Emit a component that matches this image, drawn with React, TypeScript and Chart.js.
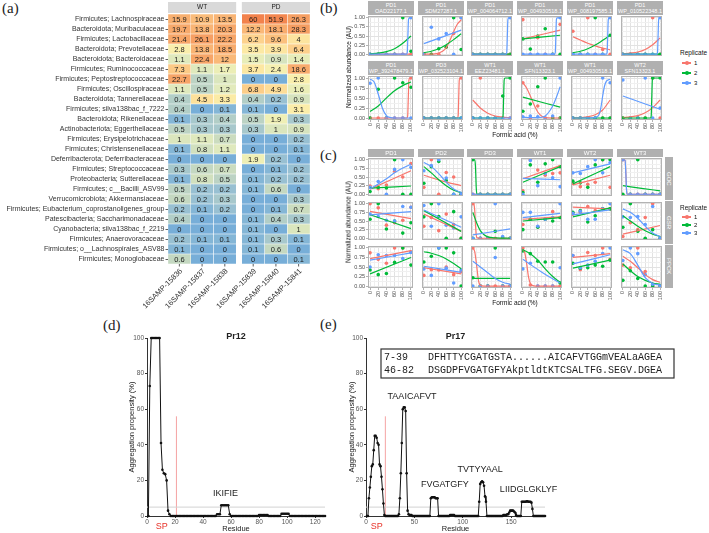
import React, { useEffect, useRef } from "react";
import { Chart, registerables } from "chart.js";

Chart.register(...registerables);
const FONT = "'Liberation Sans', Arial, Helvetica, sans-serif";
Chart.defaults.font.family = FONT;

// ---------------- (a) heatmap data ----------------
const TAXA = [
  "Firmicutes; Lachnospiraceae", "Bacteroidota; Muribaculaceae", "Firmicutes; Lactobacillaceae",
  "Bacteroidota; Prevotellaceae", "Bacteroidota; Bacteroidaceae", "Firmicutes; Ruminococcaceae",
  "Firmicutes; Peptostreptococcaceae", "Firmicutes; Oscillospiraceae", "Bacteroidota; Tannerellaceae",
  "Firmicutes; silva138bac_f_7222", "Bacteroidota; Rikenellaceae", "Actinobacteriota; Eggerthellaceae",
  "Firmicutes; Erysipelotrichaceae", "Firmicutes; Christensenellaceae", "Deferribacterota; Deferribacteraceae",
  "Firmicutes; Streptococcaceae", "Proteobacteria; Sutterellaceae", "Firmicutes; c__Bacilli_ASV99",
  "Verrucomicrobiota; Akkermansiaceae", "Firmicutes; Eubacterium_coprostanoligenes_group",
  "Patescibacteria; Saccharimonadaceae", "Cyanobacteria; silva138bac_f_2219", "Firmicutes; Anaerovoracaceae",
  "Firmicutes; o__Lachnospirales_ASV88", "Firmicutes; Monoglobaceae",
];
const SAMPLES = ["16SAMP-15836", "16SAMP-15837", "16SAMP-15838", "16SAMP-15839", "16SAMP-15840", "16SAMP-15841"];
const GROUPS = ["WT", "PD"];
const S15836 = [15.9, 19.7, 21.4, 2.8, 1.1, 7.3, 22.7, 1.1, 0.4, 0.4, 0.1, 0.5, 1, 0.1, 0, 0.3, 0.1, 0.5, 0.6, 0.2, 0.4, 0, 0.2, 0.1, 0.6];
const S15837 = [10.9, 13.8, 26.1, 13.8, 22.4, 1.1, 0.5, 0.5, 4.5, 0, 0.3, 0.3, 1.1, 0.8, 0, 0.6, 0.8, 0.2, 0.2, 0.1, 0, 0, 0.1, 0, 0];
const S15838 = [13.5, 20.3, 22.2, 18.5, 12, 1.7, 1, 1.2, 3.3, 0.1, 0.4, 0.3, 0.7, 1.1, 0, 0.7, 0.5, 0.2, 0.3, 0.2, 0, 0, 0.1, 0, 0];
const S15839 = [60, 12.2, 6.2, 3.5, 1.5, 3.7, 0, 6.8, 0.4, 0.1, 0.5, 0.3, 0, 0, 1.9, 0, 0.1, 0.1, 0, 0, 0.1, 0.1, 0.1, 0.1, 0];
const S15840 = [51.9, 18.1, 9.6, 3.9, 0.9, 2.4, 0, 4.9, 0.2, 0, 1.9, 1, 0, 0, 0.2, 0.1, 0.2, 0.6, 0, 0.1, 0.4, 0, 0.3, 0.6, 0];
const S15841 = [26.3, 28.3, 4, 6.4, 1.4, 18.6, 2.8, 1.6, 0.9, 3.1, 0.3, 0.9, 0.2, 0.1, 0, 0.2, 0.2, 0, 0.3, 0.7, 0.3, 1, 0.1, 0, 0.1];
const HEAT_VALUES = [S15836, S15837, S15838, S15839, S15840, S15841];
const HEAT_COL_POS = [0, 1, 2, 3.25, 4.25, 5.25];

// ---------------- (b)/(c) facet data ----------------
const FORMIC = [0, 20, 40, 60, 80, 100];
const FORMIC_MINOR = [10, 30, 50, 70, 90];
const ABUND_TICKS = [0, 0.25, 0.5, 0.75, 1];
const ABUND_MINOR = [0.125, 0.375, 0.625, 0.875];
const REPLICATES = ["1", "2", "3"];
const REP_COLORS = ["#F8766D", "#00BA38", "#619CFF"];

const B_TITLES = [
  ["PD1", "OAD22177.1"], ["PD1", "SDM27287.1"], ["PD1", "WP_004064712.1"], ["PD1", "WP_004930518.1"],
  ["PD1", "WP_008197585.1"], ["PD1", "WP_010522348.1"], ["PD1", "WP_392478479.1"], ["PD3", "WP_032523104.1"],
  ["WT1", "EEZ23481.1"], ["WT1", "SFN13323.1"], ["WT1", "WP_004930518.1"], ["WT2", "SFN13323.1"],
];
const B_POINTS = [
  [[0, 0, 0, 0, 0, 0], [0, 0, 0, 0, 1, 0.08], [0, 0, 0, 0, 0, 1]],
  [[0, 0, 0, 0.19, 0.57, 1], [0, 0, 0.15, 0.2, 1, 0.13], [0, 0.74, 0.42, 0.57, 0, 1]],
  [[0, 0, 0, 0, 0, 0], [0, 0, 0, 0, 0, 0], [0, 0, 0, 0, 0, 1]],
  [[0.95, 0, 0.45, 0, 0, 0.82], [0.42, 0.14, 0.5, 0.7, 0, 0], [0, 0, 0, 0, 0, 1]],
  [[0.63, 0, 1, 0, 0.13, 0], [0, 0, 0, 1, 0, 0.52], [0, 0, 0, 0, 0, 1]],
  [[0, 0, 0, 0, 1, 0], [0, 0, 0, 0, 0, 0], [0, 0, 0, 0, 0, 1]],
  [[0, 0, 0, 0, 0, 1], [0, 0.72, 0, 1, 0.88, 0.77], [0.87, 1, 0, 0, 0, 0]],
  [[0, 0, 0, 0, 0, 1], [0, 0, 0, 0, 0, 0], [0, 0, 0, 0, 0, 0]],
  [[0, 1, 0, 0, 0, 0], [0, 0, 0, 0, 0.55, 1], [0, 0, 0, 0, 0, 0]],
  [[0.88, 0, 0.3, 0, 0, 0], [0.17, 0.35, 0.78, 1, 0, 0], [0.03, 0.05, 0.03, 0, 0.05, 1]],
  [[0, 0, 0, 0, 0, 0], [0, 0, 0, 0, 0, 0], [0, 0, 0, 0, 1, 0.88]],
  [[0, 0, 0, 0, 1, 0], [0, 0, 0, 0, 1, 1], [0.95, 0, 0, 1, 0, 0.25]],
];
const B_FITS = [
  [[[0, 0], [100, 0]], [[0, 0.01], [20, 0.03], [40, 0.07], [60, 0.15], [80, 0.3], [100, 0.5]], [[0, 0], [89, 0], [91, 0.05], [92.5, 0.5], [94, 0.95], [96, 1], [100, 1]]],
  [[[0, 0], [30, 0.01], [50, 0.08], [60, 0.18], [70, 0.38], [80, 0.62], [90, 0.83], [100, 0.94]], [[0, 0.04], [20, 0.08], [40, 0.15], [60, 0.26], [80, 0.4], [100, 0.56]], [[0, 0.29], [100, 0.66]]],
  [[[0, 0], [100, 0]], [[0, 0], [100, 0]], [[0, 0], [89, 0], [91, 0.05], [92.5, 0.5], [94, 0.95], [96, 1], [100, 1]]],
  [[[0, 0.42], [100, 0.66]], [[0, 0.42], [100, 0.52]], [[0, 0], [85, 0], [87, 0.05], [88.5, 0.5], [90, 0.95], [92, 1], [100, 1]]],
  [[[0, 0.48], [20, 0.39], [40, 0.3], [60, 0.23], [80, 0.17], [100, 0.12]], [[0, 0.04], [20, 0.08], [40, 0.15], [60, 0.25], [80, 0.38], [100, 0.52]], [[0, 0], [90, 0], [92, 0.05], [93.5, 0.5], [95, 0.95], [97, 1], [100, 1]]],
  [[[0, 0.01], [20, 0.03], [40, 0.06], [60, 0.13], [80, 0.26], [100, 0.45]], [[0, 0], [100, 0]], [[0, 0], [91, 0], [93, 0.05], [94.5, 0.5], [96, 0.95], [98, 1], [100, 1]]],
  [[[0, 0], [90, 0], [92, 0.05], [93.5, 0.5], [95, 0.95], [97, 1], [100, 1]], [[0, 0.16], [20, 0.3], [40, 0.5], [60, 0.68], [80, 0.81], [100, 0.9]], [[0, 0.97], [10, 0.9], [20, 0.6], [30, 0.25], [40, 0.06], [50, 0.01], [60, 0], [100, 0]]],
  [[[0, 0], [90, 0], [92, 0.05], [93.5, 0.5], [95, 0.95], [97, 1], [100, 1]], [[0, 0], [100, 0]], [[0, 0], [100, 0]]],
  [[[0, 0.45], [20, 0.25], [40, 0.12], [60, 0.05], [80, 0.02], [100, 0.01]], [[0, 0], [79, 0], [81, 0.05], [82.5, 0.5], [84, 0.95], [86, 1], [100, 1]], [[0, 0], [100, 0]]],
  [[[0, 0.88], [10, 0.75], [20, 0.55], [30, 0.33], [40, 0.15], [50, 0.05], [60, 0.01], [80, 0], [100, 0]], [[0, 0.52], [100, 0.27]], [[0, 0.02], [20, 0.01], [40, 0.01], [60, 0.05], [70, 0.15], [80, 0.3], [90, 0.52], [100, 0.78]]],
  [[[0, 0], [20, 0.01], [40, 0.03], [60, 0.08], [80, 0.2], [100, 0.45]], [[0, 0], [100, 0]], [[0, 0], [60, 0.01], [70, 0.08], [75, 0.25], [80, 0.55], [85, 0.8], [90, 0.92], [100, 0.97]]],
  [[[0, 0.01], [20, 0.03], [40, 0.06], [60, 0.13], [80, 0.26], [100, 0.45]], [[0, 0], [74, 0], [76, 0.05], [77.5, 0.5], [79, 0.95], [81, 1], [100, 1]], [[0, 0.55], [100, 0.22]]],
];

const C_COLS = ["PD1", "PD2", "PD3", "WT1", "WT2", "WT3"];
const C_ROWS = ["GOC", "GSR", "PPCK"];
const C_POINTS = [
  [[0.24, 0.16, 0.27, 0.67, 0.5, 0.89], [0.08, 0.2, 0.18, 1, 0, 0], [0.2, 0.37, 0, 0.72, 1, 0.78]],
  [[0.2, 1, 0, 0.63, 0.5, 0], [0.32, 0.8, 0.95, 0.4, 0, 0], [0.68, 0.83, 1, 0.47, 0, 0.02]],
  [[0, 0, 0, 0, 0, 0], [1, 0, 0, 0, 0, 0], [0, 0, 0, 0, 0, 0]],
  [[0.1, 1, 0.7, 0.55, 0.6, 0.62], [0.05, 0.85, 0.35, 0.88, 1, 0.8], [0, 0.98, 0.25, 0.6, 0.48, 0.22]],
  [[0.31, 0.22, 0.29, 0.35, 1, 0.2], [0.38, 0.33, 0.2, 0.85, 1, 1], [0.62, 0.6, 0.8, 1, 0.62, 0.92]],
  [[1, 0, 0, 0, 0, 0], [0, 0, 1, 0, 0, 0], [1, 0, 0, 0, 0, 0]],
  [[1, 0.88, 0.38, 0.45, 0.52, 0.9], [0.55, 1, 0.27, 0.5, 0.15, 0.45], [0.7, 0.63, 0.52, 0.5, 0.92, 0.9]],
  [[0.35, 0.6, 0.22, 0.7, 0.4, 0], [0.62, 1, 0.63, 0, 0.77, 0], [0.95, 0.35, 1, 0.38, 0.3, 0.62]],
  [[1, 0, 0, 0, 0, 0], [0, 0, 0, 0.2, 0, 0], [0, 0, 0, 1, 0.05, 0]],
  [[0.4, 0.55, 0.33, 0.55, 0.77, 0.6], [0.25, 0.55, 0.32, 0.55, 0.5, 0.6], [0.75, 0.75, 0.35, 0.55, 0.6, 1]],
  [[0.7, 0.75, 0.92, 0.8, 0.85, 0.85], [0.75, 0.8, 0.47, 0.65, 0.85, 0.85], [0.72, 0.78, 0.55, 0.55, 0.85, 1]],
  [[0.05, 0.45, 0.25, 0.6, 1, 0], [0.32, 1, 0.2, 0, 0.25, 0], [0.62, 0.6, 0.63, 0.4, 0.92, 0]],
  [[0.87, 0.7, 0.6, 1, 1, 0.9], [0.42, 0.3, 0.33, 0.62, 1, 0.55], [0.5, 0.82, 0.8, 0.8, 0.72, 0.88]],
  [[0.28, 0.43, 0.42, 0.5, 0.3, 0.38], [0.63, 0.78, 1, 1, 0.87, 0], [0.45, 0.28, 1, 0.47, 0.08, 0.42]],
  [[1, 0, 0, 0, 0, 0], [0.22, 0, 0, 1, 0, 0], [0, 0, 0, 0.75, 0, 0]],
  [[1, 0.03, 0, 0, 0, 0], [0.92, 0.85, 0.65, 0.63, 0.63, 0.08], [0.45, 0.6, 0, 0, 0, 0.48]],
  [[0.8, 0.43, 0.88, 0.8, 1, 0.7], [0.6, 0.47, 0.48, 0.55, 0.52, 0.68], [0.8, 0.48, 0.55, 0.65, 0.85, 1]],
  [[0.55, 0.48, 1, 0.38, 0, 0], [0.15, 0.4, 0.2, 0, 0, 0], [0.67, 1, 0.85, 0.3, 0.05, 0]],
];
const C_FITS = [
  [[[0, 0.15], [100, 0.68]], [[0, 0.18], [100, 0.24]], [[0, 0.15], [20, 0.3], [40, 0.45], [60, 0.62], [80, 0.76], [100, 0.87]]],
  [[[0, 0.55], [50, 0.38], [100, 0.25]], [[0, 0.8], [20, 0.62], [40, 0.42], [60, 0.25], [80, 0.12], [100, 0.05]], [[0, 0.92], [20, 0.8], [40, 0.6], [60, 0.35], [80, 0.15], [100, 0.05]]],
  [[[0, 0], [100, 0]], [[0, 1], [5, 0.99], [7, 0.8], [8, 0.5], [9, 0.2], [11, 0.01], [15, 0], [100, 0]], [[0, 0], [100, 0]]],
  [[[0, 0.45], [100, 0.83]], [[0, 0.35], [100, 0.8]], [[0, 0.46], [100, 0.42]]],
  [[[0, 0.27], [100, 0.55]], [[0, 0.3], [100, 0.8]], [[0, 0.62], [100, 0.88]]],
  [[[0, 1], [6, 0.98], [8, 0.6], [10, 0.1], [12, 0], [100, 0]], [[0, 0.25], [50, 0.17], [100, 0.1]], [[0, 1], [6, 0.98], [8, 0.6], [10, 0.1], [12, 0], [100, 0]]],
  [[[0, 0.78], [100, 0.57]], [[0, 0.68], [100, 0.28]], [[0, 0.68], [100, 0.77]]],
  [[[0, 0.7], [100, 0.2]], [[0, 0.8], [100, 0.2]], [[0, 0.82], [100, 0.32]]],
  [[[0, 1], [3, 0.97], [5, 0.8], [7, 0.4], [9, 0.1], [12, 0.01], [20, 0], [100, 0]], [[0, 0.75], [10, 0.45], [20, 0.22], [30, 0.1], [40, 0.04], [60, 0.01], [100, 0]], [[0, 0.1], [100, 0.27]]],
  [[[0, 0.55], [100, 0.62]], [[0, 0.5], [100, 0.6]], [[0, 0.6], [100, 0.72]]],
  [[[0, 0.9], [100, 0.85]], [[0, 0.62], [100, 0.88]], [[0, 0.68], [100, 0.82]]],
  [[[0, 0.12], [100, 0.37]], [[0, 0.65], [20, 0.5], [40, 0.35], [60, 0.22], [80, 0.12], [100, 0.05]], [[0, 0.85], [20, 0.75], [40, 0.58], [60, 0.35], [80, 0.15], [100, 0.05]]],
  [[[0, 0.72], [100, 0.93]], [[0, 0.32], [100, 0.75]], [[0, 0.68], [100, 0.87]]],
  [[[0, 0.48], [100, 0.32]], [[0, 0.9], [20, 0.86], [40, 0.8], [60, 0.71], [80, 0.59], [100, 0.45]], [[0, 0.52], [100, 0.36]]],
  [[[0, 1], [5, 0.9], [10, 0.55], [15, 0.15], [20, 0.02], [30, 0], [100, 0]], [[0, 0.2], [100, 0.2]], [[0, 0.65], [20, 0.5], [40, 0.35], [60, 0.2], [80, 0.1], [100, 0.05]]],
  [[[0, 0.95], [5, 0.88], [10, 0.6], [15, 0.25], [20, 0.07], [25, 0.02], [35, 0], [100, 0]], [[0, 0.95], [20, 0.85], [40, 0.68], [60, 0.45], [80, 0.25], [100, 0.1]], [[0, 0.7], [50, 0.37], [100, 0.08]]],
  [[[0, 0.75], [100, 0.85]], [[0, 0.47], [100, 0.68]], [[0, 0.58], [100, 0.82]]],
  [[[0, 0.78], [20, 0.65], [40, 0.48], [60, 0.3], [80, 0.17], [100, 0.1]], [[0, 0.58], [20, 0.4], [40, 0.25], [60, 0.15], [80, 0.08], [100, 0.05]], [[0, 0.95], [20, 0.85], [40, 0.55], [60, 0.22], [80, 0.07], [100, 0.03]]],
];

// ---------------- (d)/(e) aggregation data ----------------
const AGG_TICKS_Y = 20;
const AGG_THRESHOLD = 5;
const SP_LINE_TOP = 56;
const PR12_VALUES = [
  0, 73, 100, 100, 100, 100, 100, 100, 100, 41,
  26, 24, 23.5, 20, 3, 1, 0, 0, 0, 0,
  0, 0, 0, 0, 0, 0, 0, 0, 0, 0,
  0, 0, 0, 0, 0, 0, 0, 0, 0, 0,
  0, 0, 0, 0, 0, 0, 0, 0, 0, 1,
  1, 1, 6, 6, 6, 6, 6, 6, 1, 0,
  0, 0, 0, 0, 0, 0, 0, 0, 0, 0,
  0, 0, 0, 0, 0, 0, 0, 0, 0, 0.5,
  0.5, 0.5, 0.5, 0.5, 0.5, 0.5, 0, 0, 0, 0,
  0, 0, 0, 0, 0, 1.2, 1.3, 1.3, 1.3, 1.3,
  1.2, 0, 0, 0, 0, 0, 0, 0, 0, 0,
  0, 0, 0, 0, 0, 0, 0, 0, 0, 0,
  0, 0, 0, 0, 0, 0, 0,
];
const PR17_VALUES = [
  0, 0, 10, 16, 22, 28, 29, 37, 45, 45,
  44, 41, 40, 29, 28, 22, 15, 7, 0.5, 0,
  0, 0, 0, 0, 0, 0, 0, 0, 0, 0,
  0, 0, 0, 1, 10, 24, 41, 60, 61, 61,
  59, 24, 3, 1, 0.5, 0.5, 0.5, 0, 0, 0,
  0, 0, 0, 0, 0, 0, 0, 0, 0, 0,
  0, 0, 0, 0, 0, 0, 10, 10.5, 10.5, 10.5,
  10.5, 10, 10, 10, 0, 0, 0, 0, 0, 0,
  0, 0, 0, 0, 0, 0, 0.5, 0.5, 0.5, 0.5,
  0.5, 0, 0, 0, 0, 0, 0, 0, 0, 0,
  0, 0, 0, 0, 0, 0, 0, 0, 0, 0,
  0, 0, 0, 0, 0, 0, 8, 18, 19, 19.5,
  19, 17, 11, 8, 0, 0, 0, 0, 0, 0,
  0, 0, 0, 0, 0, 0, 0, 0, 0, 0,
  0, 0.5, 0.5, 0.5, 0.5, 1, 1, 2, 3, 3,
  3, 3, 2.5, 2, 0.5, 0, 0, 0, 0, 0,
  8, 8, 8, 8, 8, 8.2, 8.2, 8, 8, 8,
  7.5, 4, 0, 0, 0, 0, 0, 0, 0, 0,
  0, 0, 0, 0, 0,
];
const PR12_SP_END = 21;
const PR17_SP_END = 20;
const PR12_PEPTIDES: [string, number, number][] = [["IKIFIE", 56, 12.5]];
const PR17_PEPTIDES: [string, number, number][] = [
  ["TAAICAFVT", 47.5, 67], ["FVGATGFY", 81.5, 17.5], ["TVTYYAAL", 118, 26], ["LIIDGLGKLYF", 168, 14.6],
];
const PR17_ALIGN = [
  ["7-39", "DFHTTYCGATGSTA......AICAFVTGGmVEALaAGEA"],
  ["46-82", "DSGDPFVGATGFYAkptldtKTCSALTFG.SEGV.DGEA"],
];

// ---------------- helpers ----------------
const HEAT_STOPS: [number, string][] = [
  [0, "#77aed8"], [0.1, "#84b6d6"], [0.2, "#98c0d2"], [0.4, "#b2cec7"], [0.7, "#cbdcbf"], [1.1, "#dfe9bd"],
  [2, "#f1f0b4"], [3, "#fbeeaa"], [5, "#fddc97"], [8, "#fcc682"], [14, "#f9b474"], [25, "#f6a164"], [60, "#f2824c"],
];
function hexToRgb(h: string) {
  const n = parseInt(h.slice(1), 16);
  return [(n >> 16) & 255, (n >> 8) & 255, n & 255];
}
function heatColor(v: number) {
  const t = Math.log10(v + 0.1);
  for (let i = 0; i < HEAT_STOPS.length - 1; i++) {
    const t0 = Math.log10(HEAT_STOPS[i][0] + 0.1);
    const t1 = Math.log10(HEAT_STOPS[i + 1][0] + 0.1);
    if (t <= t1 || i === HEAT_STOPS.length - 2) {
      const f = Math.max(0, Math.min(1, (t - t0) / (t1 - t0)));
      const a = hexToRgb(HEAT_STOPS[i][1]);
      const b = hexToRgb(HEAT_STOPS[i + 1][1]);
      return `rgb(${a.map((c, k) => Math.round(c + (b[k] - c) * f)).join(",")})`;
    }
  }
  return HEAT_STOPS[0][1];
}

const heatPlugin = {
  id: "heatDeco",
  afterDatasetsDraw(chart: any) {
    const { ctx, chartArea: a } = chart;
    const x = chart.scales.x;
    ctx.save();
    ctx.font = `7.5px ${FONT}`;
    ctx.fillStyle = "#1a1a1a";
    ctx.textAlign = "center";
    ctx.textBaseline = "middle";
    chart.data.datasets.forEach((_ds: any, i: number) => {
      const meta = chart.getDatasetMeta(i);
      meta.data.forEach((el: any, j: number) => {
        const p = el.getProps(["x", "y", "base"], true);
        ctx.fillText(String(HEAT_VALUES[i][j]), (p.x + p.base) / 2, p.y + 0.5);
      });
    });
    GROUPS.forEach((g, gi) => {
      const x0 = x.getPixelForValue(HEAT_COL_POS[gi * 3]);
      const x1 = x.getPixelForValue(HEAT_COL_POS[gi * 3 + 2] + 1);
      ctx.fillStyle = "#d9d9d9";
      ctx.fillRect(x0, a.top - 12, x1 - x0, 11);
      ctx.fillStyle = "#1a1a1a";
      ctx.font = `6.5px ${FONT}`;
      ctx.fillText(g, (x0 + x1) / 2, a.top - 6.5);
    });
    ctx.font = `7.5px ${FONT}`;
    ctx.fillStyle = "#333";
    ctx.strokeStyle = "#333";
    ctx.lineWidth = 0.8;
    SAMPLES.forEach((s, k) => {
      const cx = x.getPixelForValue(HEAT_COL_POS[k] + 0.5);
      ctx.beginPath();
      ctx.moveTo(cx, a.bottom);
      ctx.lineTo(cx, a.bottom + 2.5);
      ctx.stroke();
      ctx.save();
      ctx.translate(cx + 2, a.bottom + 6);
      ctx.rotate(-Math.PI / 4);
      ctx.textAlign = "right";
      ctx.textBaseline = "middle";
      ctx.fillText(s, 0, 0);
      ctx.restore();
    });
    ctx.restore();
  },
};

function heatConfig(height: number) {
  return {
    type: "bar",
    data: {
      labels: TAXA,
      datasets: HEAT_VALUES.map((vals, k) => ({
        data: TAXA.map(() => [HEAT_COL_POS[k], HEAT_COL_POS[k] + 1]),
        backgroundColor: vals.map(heatColor),
        borderColor: "#ffffff",
        borderWidth: 0.5,
        borderSkipped: false,
        grouped: false,
        barPercentage: 1,
        categoryPercentage: 1,
      })),
    },
    options: {
      indexAxis: "y",
      responsive: false,
      animation: false,
      devicePixelRatio: 1,
      events: [],
      layout: { padding: { top: 14, right: 2, bottom: height - 264, left: 0 } },
      plugins: { legend: { display: false }, tooltip: { enabled: false } },
      scales: {
        x: { type: "linear", min: 0, max: 6.25, display: false },
        y: {
          type: "category",
          position: "left",
          grid: { display: true, drawOnChartArea: false, offset: false, tickLength: 2.5, tickColor: "#333", tickWidth: 0.8 },
          border: { display: false },
          ticks: { color: "#333", font: { size: 7 }, padding: 1, autoSkip: false },
          afterFit: (s: any) => { s.width = 168; },
        },
      },
    },
    plugins: [heatPlugin],
  };
}

const panelBorder = {
  id: "panelBorder",
  afterDraw(chart: any) {
    const { ctx, chartArea: a } = chart;
    ctx.save();
    ctx.strokeStyle = "#b3b3b3";
    ctx.lineWidth = 1;
    ctx.strokeRect(Math.round(a.left) + 0.5, Math.round(a.top) + 0.5, Math.round(a.width) - 1, Math.round(a.height) - 1);
    ctx.restore();
  },
};

const FY_W = 18;
const FX_H = 12;
const FPAD = 3;
const FACET_X = [368, 418, 467, 517, 567, 617];
const FACET_W = 46;

function zeroPad(s: any) {
  s.paddingLeft = 0; s.paddingRight = 0; s.paddingTop = 0; s.paddingBottom = 0;
}

function facetConfig(pts: number[][], fits: number[][][], showY: boolean, showX: boolean) {
  const datasets: any[] = [];
  fits.forEach((f, r) => datasets.push({
    data: f.map(([x, y]) => ({ x, y })),
    showLine: true,
    borderColor: REP_COLORS[r],
    backgroundColor: REP_COLORS[r],
    borderWidth: 1.2,
    pointRadius: 0,
    pointHoverRadius: 0,
    cubicInterpolationMode: "monotone",
    order: 2 - r,
  }));
  pts.forEach((p, r) => datasets.push({
    data: p.map((y, i) => ({ x: FORMIC[i], y })),
    showLine: false,
    pointRadius: 1.8,
    pointBackgroundColor: REP_COLORS[r],
    pointBorderColor: REP_COLORS[r],
    pointBorderWidth: 0,
    order: 5 - r,
  }));
  const majX = (v: number) => FORMIC.includes(v);
  const majY = (v: number) => ABUND_TICKS.some((t) => Math.abs(t - v) < 1e-9);
  return {
    type: "scatter",
    data: { datasets },
    options: {
      responsive: false,
      animation: false,
      devicePixelRatio: 1,
      events: [],
      layout: { padding: { top: FPAD, right: FPAD, left: 0, bottom: 0 } },
      plugins: { legend: { display: false }, tooltip: { enabled: false } },
      scales: {
        x: {
          type: "linear", min: -5, max: 105,
          afterBuildTicks: (s: any) => { s.ticks = [...FORMIC, ...FORMIC_MINOR].sort((a, b) => a - b).map((v) => ({ value: v })); },
          afterFit: (s: any) => { s.height = showX ? FX_H : 0; zeroPad(s); },
          ticks: { display: showX, autoSkip: false, minRotation: 90, maxRotation: 90, padding: 1, color: "#4d4d4d", font: { size: 5.5 }, callback: (v: number) => (majX(v) ? String(v) : "") },
          grid: {
            color: (c: any) => (majX(c.tick && c.tick.value) ? "#e2e2e2" : "#f0f0f0"),
            drawTicks: showX, tickLength: 2,
            tickColor: (c: any) => (majX(c.tick && c.tick.value) ? "#b3b3b3" : "rgba(0,0,0,0)"),
          },
          border: { display: false },
        },
        y: {
          type: "linear", min: -0.05, max: 1.05,
          afterBuildTicks: (s: any) => { s.ticks = [...ABUND_TICKS, ...ABUND_MINOR].sort((a, b) => a - b).map((v) => ({ value: v })); },
          afterFit: (s: any) => { s.width = showY ? FY_W : 0; zeroPad(s); },
          ticks: { display: showY, autoSkip: false, padding: 1, color: "#4d4d4d", font: { size: 5.5 }, callback: (v: number) => (majY(v) ? v.toFixed(2) : "") },
          grid: {
            color: (c: any) => (majY(c.tick && c.tick.value) ? "#e2e2e2" : "#f0f0f0"),
            drawTicks: showY, tickLength: 2,
            tickColor: (c: any) => (majY(c.tick && c.tick.value) ? "#b3b3b3" : "rgba(0,0,0,0)"),
          },
          border: { display: false },
        },
      },
    },
    plugins: [panelBorder],
  };
}

function aggConfig(values: number[], xMax: number, xStep: number, spEnd: number, title: string,
  peptides: [string, number, number][], spX: number, yW: number, padRight: number, align: string[][] | null) {
  const deco = {
    id: "aggDeco",
    afterDraw(chart: any) {
      const { ctx, chartArea: a } = chart;
      const xs = chart.scales.x;
      const ys = chart.scales.y;
      ctx.save();
      ctx.textAlign = "center";
      ctx.textBaseline = "middle";
      ctx.fillStyle = "#222";
      ctx.font = `bold 9px ${FONT}`;
      ctx.fillText(title, (a.left + a.right) / 2, a.top - 1);
      ctx.font = `9px ${FONT}`;
      peptides.forEach(([t, px, py]) => ctx.fillText(t, xs.getPixelForValue(px), ys.getPixelForValue(py)));
      ctx.fillStyle = "#e8332a";
      ctx.font = `9px ${FONT}`;
      ctx.fillText("SP", xs.getPixelForValue(spX), a.bottom + 11);
      if (align) {
        const bx = a.left + 15, by = a.top + 11, bw = 293, bh = 29;
        ctx.strokeStyle = "#333";
        ctx.lineWidth = 1.2;
        ctx.strokeRect(bx, by, bw, bh);
        ctx.fillStyle = "#222";
        ctx.font = `10px 'Liberation Mono', 'DejaVu Sans Mono', monospace`;
        ctx.textAlign = "left";
        align.forEach(([rng, seq], i) => {
          const yy = by + 8.5 + i * 12.5;
          ctx.fillText(rng, bx + 3, yy);
          ctx.fillText(seq, bx + 47, yy);
        });
      }
      ctx.restore();
    },
  };
  return {
    type: "scatter",
    data: {
      datasets: [
        { data: values.map((v, i) => ({ x: i + 1, y: v })), showLine: true, borderColor: "#111", borderWidth: 1, pointRadius: 1.3, pointBackgroundColor: "#111", pointBorderWidth: 0, order: 0, clip: 4 },
        { data: [{ x: 0, y: AGG_THRESHOLD }, { x: xMax, y: AGG_THRESHOLD }], showLine: true, borderColor: "#d2d2d2", borderWidth: 1, pointRadius: 0, order: 1 },
        { data: [{ x: spEnd, y: 0 }, { x: spEnd, y: SP_LINE_TOP }], showLine: true, borderColor: "#f5a3a3", borderWidth: 1, pointRadius: 0, order: 2 },
      ],
    },
    options: {
      responsive: false,
      animation: false,
      devicePixelRatio: 1,
      events: [],
      layout: { padding: { top: 12, right: padRight, left: 0, bottom: 0 } },
      plugins: { legend: { display: false }, tooltip: { enabled: false } },
      scales: {
        x: {
          type: "linear", min: 0, max: xMax,
          ticks: { stepSize: xStep, includeBounds: false, color: "#555", font: { size: 6.5 }, padding: 0, maxRotation: 0 },
          grid: { display: true, drawOnChartArea: false, tickLength: 2, color: "#333" },
          border: { display: true, color: "#333", width: 1 },
          title: { display: true, text: "Residue", color: "#222", font: { size: 7.5 }, padding: 0 },
          afterFit: (s: any) => { s.height = 17; zeroPad(s); },
        },
        y: {
          type: "linear", min: 0, max: 100,
          ticks: { stepSize: AGG_TICKS_Y, color: "#555", font: { size: 6.5 }, padding: 1 },
          grid: { display: true, drawOnChartArea: false, tickLength: 2, color: "#333" },
          border: { display: true, color: "#333", width: 1 },
          title: { display: true, text: "Aggregation propensity (%)", color: "#222", font: { size: 7.5 }, padding: 0 },
          afterFit: (s: any) => { s.width = yW; zeroPad(s); },
        },
      },
    },
    plugins: [deco],
  };
}

function ChartBox({ left, top, width, height, config }: any) {
  const ref = useRef<HTMLCanvasElement>(null);
  useEffect(() => {
    const chart = new Chart(ref.current as HTMLCanvasElement, config);
    return () => chart.destroy();
  }, []);
  return <canvas ref={ref} width={width} height={height} style={{ position: "absolute", left, top, width, height }} />;
}

function Facet({ col, plotTop, plotH, pts, fits, showY, showX }: any) {
  const left = FACET_X[col] - (showY ? FY_W : 0);
  const top = plotTop - FPAD;
  const width = FACET_W + (showY ? FY_W : 0) + FPAD;
  const height = FPAD + plotH + (showX ? FX_H : 0);
  return <ChartBox left={left} top={top} width={width} height={height} config={facetConfig(pts, fits, showY, showX)} />;
}

function PanelLabel({ x, y, text }: any) {
  return <div style={{ position: "absolute", left: x, top: y, fontFamily: "'Liberation Serif', 'DejaVu Serif', serif", fontSize: 15, lineHeight: "16px", color: "#222" }}>{text}</div>;
}

function Legend({ x, titleY, firstY, gap }: any) {
  return (
    <>
      <div style={{ position: "absolute", left: x, top: titleY - 4.5, fontSize: 6.5, lineHeight: "9px", color: "#111", whiteSpace: "nowrap" }}>Replicate</div>
      {REPLICATES.map((r, i) => (
        <React.Fragment key={r}>
          <div style={{ position: "absolute", left: x + 2, top: firstY + i * gap - 0.6, width: 9, height: 1.2, background: REP_COLORS[i] }} />
          <div style={{ position: "absolute", left: x + 4.5, top: firstY + i * gap - 2, width: 4, height: 4, borderRadius: 2, background: REP_COLORS[i] }} />
          <div style={{ position: "absolute", left: x + 14, top: firstY + i * gap - 4, fontSize: 6, lineHeight: "8px", color: "#111" }}>{r}</div>
        </React.Fragment>
      ))}
    </>
  );
}

const B_PLOT_Y = [15, 75];
const B_PLOT_H = 45;
const C_PLOT_Y = [157, 201, 245];
const C_PLOT_H = 43;

export default function App() {
  const stripBase: any = { position: "absolute", background: "#b0b0b0", color: "#fff", fontSize: 5.5, textAlign: "center", display: "flex", flexDirection: "column", justifyContent: "center", overflow: "hidden", whiteSpace: "nowrap" };
  return (
    <div style={{ position: "absolute", left: 0, top: 0, width: 709, height: 533, background: "#fff", overflow: "hidden", fontFamily: FONT }}>
      <PanelLabel x={2} y={0} text="(a)" />
      <PanelLabel x={320} y={0} text="(b)" />
      <PanelLabel x={320} y={147} text="(c)" />
      <PanelLabel x={103} y={317} text="(d)" />
      <PanelLabel x={320} y={316} text="(e)" />

      <ChartBox left={0} top={0} width={312} height={335} config={heatConfig(335)} />

      {/* (b) */}
      {B_TITLES.map((t, p) => {
        const col = p % 6, row = Math.floor(p / 6);
        return (
          <React.Fragment key={"b" + p}>
            <div style={{ ...stripBase, left: FACET_X[col], top: B_PLOT_Y[row] - 14, width: FACET_W, height: 14, lineHeight: "6px" }}>
              <div>{t[0]}</div><div>{t[1]}</div>
            </div>
            <Facet col={col} plotTop={B_PLOT_Y[row]} plotH={B_PLOT_H} pts={B_POINTS[p]} fits={B_FITS[p]} showY={col === 0} showX={row === 1} />
          </React.Fragment>
        );
      })}
      <div style={{ position: "absolute", left: 415, width: 200, top: 131, textAlign: "center", fontSize: 6.5, lineHeight: "8px", color: "#111" }}>Formic acid (%)</div>
      <div style={{ position: "absolute", left: 348, top: 67, transform: "translate(-50%,-50%) rotate(-90deg)", whiteSpace: "nowrap", fontSize: 6.5, color: "#111" }}>Normalized abundance (AU)</div>
      <Legend x={680} titleY={52} firstY={63} gap={10} />

      {/* (c) */}
      {C_COLS.map((c, col) => (
        <div key={"cs" + col} style={{ ...stripBase, left: FACET_X[col], top: 149, width: FACET_W, height: 8, fontSize: 6, lineHeight: "8px" }}>{c}</div>
      ))}
      {C_ROWS.map((r, row) => (
        <div key={"cr" + row} style={{ ...stripBase, left: 665, top: C_PLOT_Y[row], width: 8, height: C_PLOT_H, fontSize: 6, alignItems: "center" }}>
          <span style={{ writingMode: "vertical-rl" as any, lineHeight: "8px" }}>{r}</span>
        </div>
      ))}
      {C_POINTS.map((pts, p) => {
        const col = p % 6, row = Math.floor(p / 6);
        return <Facet key={"c" + p} col={col} plotTop={C_PLOT_Y[row]} plotH={C_PLOT_H} pts={pts} fits={C_FITS[p]} showY={col === 0} showX={row === 2} />;
      })}
      <div style={{ position: "absolute", left: 415, width: 200, top: 299, textAlign: "center", fontSize: 6.5, lineHeight: "8px", color: "#111" }}>Formic acid (%)</div>
      <div style={{ position: "absolute", left: 348, top: 222, transform: "translate(-50%,-50%) rotate(-90deg)", whiteSpace: "nowrap", fontSize: 6.5, color: "#111" }}>Normalized abundance (AU)</div>
      <Legend x={680} titleY={207} firstY={217} gap={8} />

      {/* (d) */}
      <ChartBox left={127} top={326} width={204} height={207}
        config={aggConfig(PR12_VALUES, 127, 20, PR12_SP_END, "Pr12", PR12_PEPTIDES, 10.6, 20, 6, null)} />
      {/* (e) */}
      <ChartBox left={347} top={326} width={362} height={207}
        config={aggConfig(PR17_VALUES, 185, 50, PR17_SP_END, "Pr17", PR17_PEPTIDES, 11, 19, 164, PR17_ALIGN)} />
    </div>
  );
}
